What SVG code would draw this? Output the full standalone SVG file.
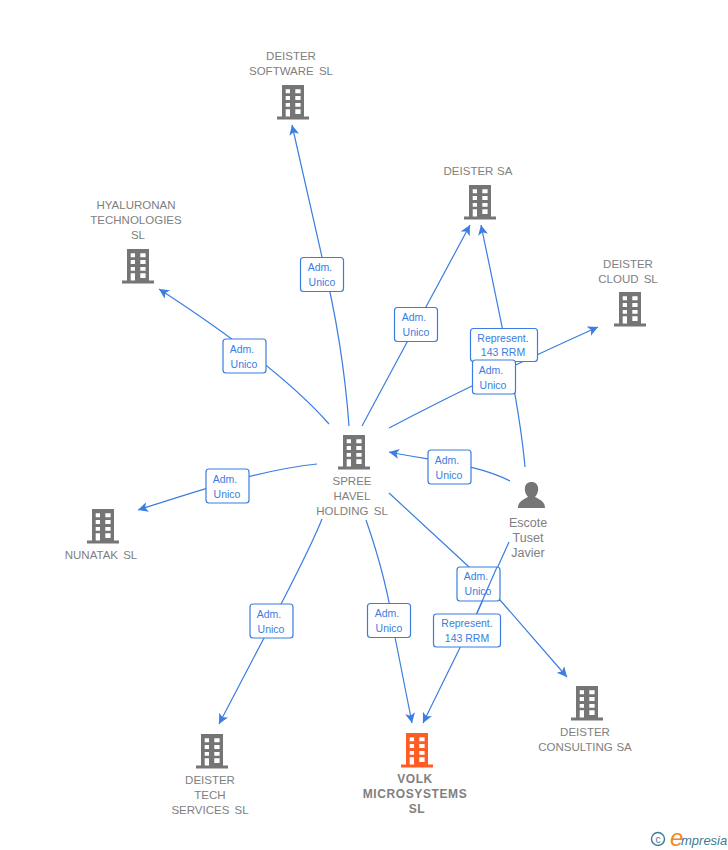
<svg xmlns="http://www.w3.org/2000/svg" width="728" height="850" viewBox="0 0 728 850">
<style>
text{font-family:"Liberation Sans",Arial,sans-serif}
.n{font-size:11.5px;fill:#808080;text-anchor:middle;word-spacing:2px}
.t{word-spacing:0.5px}
.e{font-size:12.5px}
.b{font-size:12px;font-weight:bold;letter-spacing:.6px}
.l{font-size:10.5px;fill:#3b7de0;text-anchor:middle}
.c{fill:none;stroke:#3b7de0;stroke-width:1.2;marker-end:url(#a)}
.p{fill:none;stroke:#3b7de0;stroke-width:1.2}
.r{fill:#fff;stroke:#3b7de0;stroke-width:1.2}
</style>
<defs>
<marker id="a" markerUnits="userSpaceOnUse" markerWidth="12" markerHeight="12" refX="10" refY="5" orient="auto"><path d="M0 0L10 5L0 10L2.5 5Z" fill="#3b7de0"/></marker>
<path id="w" fill-rule="evenodd" d="M-11 0H11V31.5H16V34.5H-16V31.5H-11ZM-7.3 4.3V8.3H-3V4.3ZM2.3 4.3V8.3H7.6V4.3ZM-7.3 11V15H-3V11ZM2.3 11V15H7.600V11ZM-7.3 18V21.7H-3V18ZM2.3 18V21.7H7.6V18ZM-7.3 24.3V31.5H-3V24.3ZM2.3 24.3V29H7.6V24.3Z"/>
</defs>
<g id="connectors">
<path class="c" d="M349 426C345 370 335 310 322 257L292 125"/>
<path class="c" d="M329 424C290 380 230 335 159 289"/>
<path class="c" d="M317 464C260 470 200 490 138 510"/>
<path class="c" d="M322 519C310 550 280 605 264 638L219 724"/>
<path class="c" d="M366 520C380 560 390 600 395 637L412 723"/>
<path class="c" d="M389 493L468 566C480 578 490 590 500 600L567 677"/>
<path class="c" d="M362 426L470 225"/>
<path class="c" d="M389 428Q480 380 598 327"/>
<path class="c" d="M510 481C480 465 440 462 389 452"/>
<path class="c" d="M525 467C520 410 505 340 481 225"/>
<path class="c" d="M509 542L477 613L423 723"/>
</g>
<g id="label-software"><rect class="r" x="300.500" y="257.500" width="43" height="34" rx="3"/><text class="l" x="320" y="271">Adm.</text><text class="l" x="322" y="286">Unico</text></g>
<g id="label-hyaluronan"><rect class="r" x="223" y="339" width="43" height="34" rx="3"/><text class="l" x="242" y="353">Adm.</text><text class="l" x="244" y="368">Unico</text></g>
<g id="label-nunatak"><rect class="r" x="206" y="469" width="43" height="34" rx="3"/><text class="l" x="225" y="483">Adm.</text><text class="l" x="227" y="498">Unico</text></g>
<g id="label-tech"><rect class="r" x="250" y="604" width="43" height="34" rx="3"/><text class="l" x="269" y="618">Adm.</text><text class="l" x="271" y="633">Unico</text></g>
<g id="label-volk"><rect class="r" x="367.500" y="603.500" width="43" height="34" rx="3"/><text class="l" x="387" y="617">Adm.</text><text class="l" x="389" y="632">Unico</text></g>
<g id="label-deister-sa"><rect class="r" x="394.500" y="307.500" width="43" height="34" rx="3"/><text class="l" x="414" y="321">Adm.</text><text class="l" x="416" y="336">Unico</text></g>
<g id="label-represent-sa"><rect class="r" x="470.500" y="328.500" width="67" height="33" rx="3"/><text class="l" x="503" y="342">Represent.</text><text class="l" x="503" y="356">143 RRM</text></g>
<g id="label-cloud"><rect class="r" x="472.500" y="360" width="43" height="34" rx="3"/><text class="l" x="491" y="374">Adm.</text><text class="l" x="493" y="389">Unico</text></g>
<g id="label-spree"><rect class="r" x="428" y="450" width="43" height="34" rx="3"/><text class="l" x="447" y="464">Adm.</text><text class="l" x="449" y="479">Unico</text></g>
<g id="label-consulting"><rect class="r" x="457" y="567" width="43" height="34" rx="3"/><text class="l" x="476" y="580">Adm.</text><text class="l" x="478" y="595">Unico</text><path class="p" d="M497 567L477 613"/></g>
<g id="label-represent-volk"><rect class="r" x="433.500" y="614" width="67" height="33" rx="3"/><text class="l" x="467" y="627">Represent.</text><text class="l" x="467" y="642">143 RRM</text></g>
<g id="node-software" fill="#757575"><use href="#w" x="293" y="85"/><text class="n" x="291" y="60">DEISTER</text><text class="n" x="291" y="75">SOFTWARE SL</text></g>
<g id="node-hyaluronan" fill="#757575"><use href="#w" x="138" y="249"/><text class="n" x="136" y="209">HYALURONAN</text><text class="n" x="136" y="224">TECHNOLOGIES</text><text class="n" x="138" y="239">SL</text></g>
<g id="node-deister-sa" fill="#757575"><use href="#w" x="480" y="185"/><text class="n t" x="478" y="175">DEISTER SA</text></g>
<g id="node-cloud" fill="#757575"><use href="#w" x="630" y="292"/><text class="n" x="628" y="268">DEISTER</text><text class="n" x="628" y="283">CLOUD SL</text></g>
<g id="node-spree" fill="#757575"><use href="#w" x="354" y="435"/><text class="n" x="352" y="485">SPREE</text><text class="n" x="352" y="500">HAVEL</text><text class="n" x="352" y="515">HOLDING SL</text></g>
<g id="node-nunatak" fill="#757575"><use href="#w" x="103" y="509"/><text class="n" x="101" y="559">NUNATAK SL</text></g>
<g id="node-tech" fill="#757575"><use href="#w" x="212" y="734"/><text class="n" x="210" y="784">DEISTER</text><text class="n" x="210" y="799">TECH</text><text class="n" x="210" y="814">SERVICES SL</text></g>
<g id="node-volk" fill="#ff5c26"><use href="#w" x="417" y="733"/><text class="n b" x="415" y="783">VOLK</text><text class="n b" x="415" y="798">MICROSYSTEMS</text><text class="n b" x="417" y="813">SL</text></g>
<g id="node-consulting" fill="#757575"><use href="#w" x="587" y="686"/><text class="n t" x="585" y="736">DEISTER</text><text class="n t" x="585" y="751">CONSULTING SA</text></g>
<g id="node-escote"><path fill="#757575" d="M518 508C518 502 522 500 528 497C525 494 524.500 490 525 487C526 483 529 482 531.500 482C534 482 537 483 538 487C538.500 490 538 494 535 497C541 500 545 502 545 508Z"/><text class="n e" x="528" y="527">Escote</text><text class="n e" x="528" y="542">Tuset</text><text class="n e" x="528" y="557">Javier</text></g>
<g id="logo"><circle cx="658" cy="839" r="6.500" fill="none" stroke="#3d7a94" stroke-width="1.4"/><text x="658" y="842.500" font-size="10" fill="#3d7a94" text-anchor="middle">c</text><text x="670" y="846" font-size="24" font-style="italic" fill="#f08a1d">e</text><text x="681" y="845" font-size="13" font-style="italic" fill="#3d7a94">mpresia</text></g>
</svg>
